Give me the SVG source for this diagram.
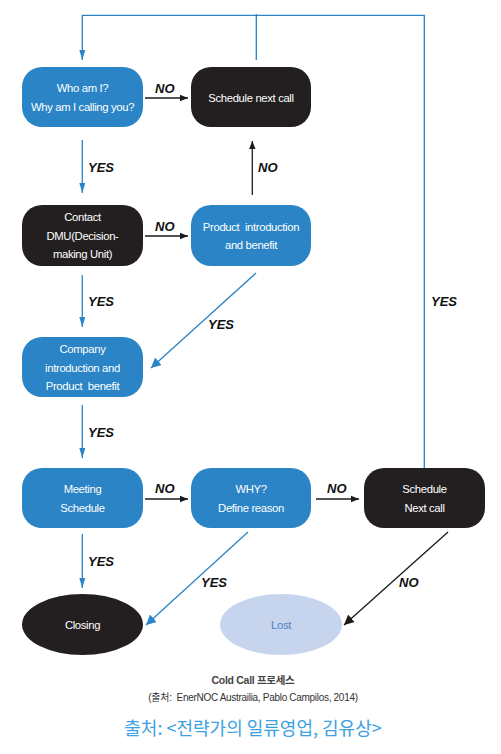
<svg xmlns="http://www.w3.org/2000/svg" width="501" height="754" viewBox="0 0 501 754">
<defs>
<style>
.blue{fill:#2a84c5}
.dark{fill:#231f20}
.bt{font-family:"Liberation Sans","Noto Sans CJK KR",sans-serif;font-size:11.3px;fill:#ffffff;text-anchor:middle;letter-spacing:-0.35px;white-space:pre}
.lbl{font-family:"Liberation Sans",sans-serif;font-size:13px;font-weight:bold;font-style:italic;fill:#111111}
.bl{stroke:#2a84c5;stroke-width:1.3;fill:none}
.bk{stroke:#1a1a1a;stroke-width:1.3;fill:none}
</style>
<marker id="ab" viewBox="0 0 10 6" refX="10" refY="3" markerWidth="10" markerHeight="6" markerUnits="userSpaceOnUse" orient="auto"><path d="M0,0 L10,3 L0,6 Z" fill="#2a84c5"/></marker>
<marker id="ak" viewBox="0 0 10 8" refX="10" refY="4" markerWidth="8" markerHeight="8" markerUnits="userSpaceOnUse" orient="auto"><path d="M0,0 L10,4 L0,8 Z" fill="#1a1a1a"/></marker>
<marker id="ab2" viewBox="0 0 10 10" refX="10" refY="5" markerWidth="10" markerHeight="10" markerUnits="userSpaceOnUse" orient="auto"><path d="M0,0 L10,5 L0,10 Z" fill="#2a84c5"/></marker>
<marker id="ak2" viewBox="0 0 10 10" refX="10" refY="5" markerWidth="10" markerHeight="10" markerUnits="userSpaceOnUse" orient="auto"><path d="M0,0 L10,5 L0,10 Z" fill="#1a1a1a"/></marker>
</defs>
<rect width="501" height="754" fill="#ffffff"/>

<g id="connectors">
<polyline class="bl" points="424.3,468 424.3,15.3 82.3,15.3 82.3,60" marker-end="url(#ab)"/>
<line class="bl" x1="256.3" y1="60" x2="256.3" y2="14"/>
<line class="bk" x1="145" y1="98" x2="188" y2="98" marker-end="url(#ak)"/>
<line class="bl" x1="82.3" y1="140" x2="82.3" y2="193" marker-end="url(#ab)"/>
<line class="bk" x1="252.3" y1="195" x2="252.3" y2="141" marker-end="url(#ak)"/>
<line class="bk" x1="145" y1="236" x2="188" y2="236" marker-end="url(#ak)"/>
<line class="bl" x1="82.3" y1="275" x2="82.3" y2="327" marker-end="url(#ab)"/>
<line class="bl" stroke-width="1" x1="256" y1="273" x2="151" y2="368" marker-end="url(#ab2)"/>
<line class="bl" x1="82.3" y1="405" x2="82.3" y2="458" marker-end="url(#ab)"/>
<line class="bk" x1="145" y1="499" x2="188" y2="499" marker-end="url(#ak)"/>
<line class="bk" x1="316" y1="499" x2="359" y2="499" marker-end="url(#ak)"/>
<line class="bl" x1="82.3" y1="534" x2="82.3" y2="588" marker-end="url(#ab)"/>
<line class="bl" stroke-width="1" x1="248" y1="532" x2="146" y2="625" marker-end="url(#ab2)"/>
<line class="bk" stroke-width="1" x1="448" y1="532" x2="344" y2="625" marker-end="url(#ak2)"/>
<g class="lbls">
<text class="lbl" x="155" y="93">NO</text>
<text class="lbl" x="88" y="172">YES</text>
<text class="lbl" x="258" y="172">NO</text>
<text class="lbl" x="155" y="231">NO</text>
<text class="lbl" x="88" y="306">YES</text>
<text class="lbl" x="208" y="329">YES</text>
<text class="lbl" x="431" y="306">YES</text>
<text class="lbl" x="88" y="437">YES</text>
<text class="lbl" x="155" y="493">NO</text>
<text class="lbl" x="327" y="493">NO</text>
<text class="lbl" x="88" y="566">YES</text>
<text class="lbl" x="201" y="587">YES</text>
<text class="lbl" x="399" y="587">NO</text>
</g>
</g>

<g id="who">
<rect class="blue" x="22" y="67" width="121" height="60" rx="20"/>
<text class="bt" x="82.5" y="92">Who am I?</text>
<text class="bt" x="82.5" y="111">Why am I calling you?</text>
</g>
<g id="schedule-next-call">
<rect class="dark" x="191" y="67" width="120" height="60" rx="20"/>
<text class="bt" x="251" y="102">Schedule next call</text>
</g>
<g id="contact">
<rect class="dark" x="22" y="205" width="121" height="61" rx="20"/>
<text class="bt" x="82.5" y="221">Contact</text>
<text class="bt" x="82.5" y="240">DMU(Decision-</text>
<text class="bt" x="82.5" y="258">making Unit)</text>
</g>
<g id="product">
<rect class="blue" x="191" y="205" width="120" height="61" rx="20"/>
<text class="bt" x="251" y="231" xml:space="preserve">Product  introduction</text>
<text class="bt" x="251" y="249">and benefit</text>
</g>
<g id="company">
<rect class="blue" x="22" y="337" width="121" height="60" rx="20"/>
<text class="bt" x="82.5" y="353">Company</text>
<text class="bt" x="82.5" y="372">introduction and</text>
<text class="bt" x="82.5" y="390" xml:space="preserve">Product  benefit</text>
</g>
<g id="meeting">
<rect class="blue" x="22" y="468" width="121" height="60" rx="20"/>
<text class="bt" x="82.5" y="493">Meeting</text>
<text class="bt" x="82.5" y="512">Schedule</text>
</g>
<g id="why">
<rect class="blue" x="191" y="468" width="120" height="60" rx="20"/>
<text class="bt" x="251" y="493">WHY?</text>
<text class="bt" x="251" y="512">Define reason</text>
</g>
<g id="schedule-next">
<rect class="dark" x="364" y="468" width="121" height="60" rx="20"/>
<text class="bt" x="424.5" y="493">Schedule</text>
<text class="bt" x="424.5" y="512">Next call</text>
</g>
<g id="closing">
<ellipse class="dark" cx="82.5" cy="624.5" rx="60.5" ry="30.5"/>
<text class="bt" x="82.5" y="629">Closing</text>
</g>
<g id="lost">
<ellipse cx="281" cy="624.5" rx="61" ry="30.5" fill="#c6d5ed"/>
<text class="bt" x="281" y="629" style="fill:#4f82c4">Lost</text>
</g>

<g id="captions">
<text x="253" y="684" text-anchor="middle" font-family="'Liberation Sans','Noto Sans CJK KR',sans-serif" font-size="10.5" font-weight="bold" fill="#444444" letter-spacing="-0.3">Cold Call 프로세스</text>
<text x="253" y="701" text-anchor="middle" font-family="'Liberation Sans','Noto Sans CJK KR',sans-serif" font-size="10" fill="#333333" letter-spacing="-0.3" xml:space="preserve">(출처:  EnerNOC Austrailia, Pablo Campilos, 2014)</text>
<text x="253" y="735" text-anchor="middle" font-family="'Noto Sans CJK KR',sans-serif" font-size="18" fill="#3ba1e2">출처: &lt;전략가의 일류영업, 김유상&gt;</text>
</g>
</svg>
